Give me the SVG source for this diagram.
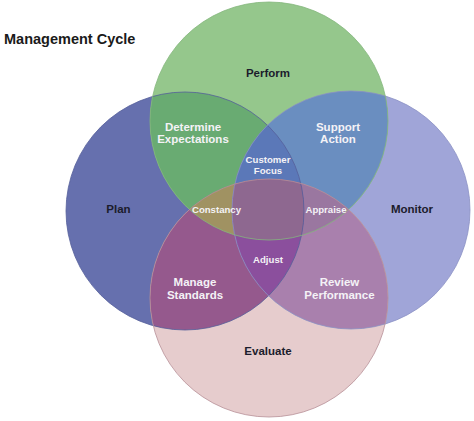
<svg xmlns="http://www.w3.org/2000/svg" width="474" height="421" viewBox="0 0 474 421">
<style>
text{font-family:"Liberation Sans",Arial,sans-serif;font-weight:bold;text-anchor:middle}
.dk{fill:#1c1c2c;font-size:11.5px}
.wt{fill:#f4f2f6;font-size:11.5px}
.sm{fill:#f4f2f6;font-size:9.6px}
.edge{fill:none;stroke-width:0.8}
</style>
<defs>
<circle id="P" cx="269" cy="121" r="119"/>
<circle id="L" cx="185" cy="211" r="119"/>
<circle id="M" cx="351" cy="210" r="119"/>
<circle id="E" cx="269" cy="298" r="119"/>
<clipPath id="cP"><use href="#P"/></clipPath>
<clipPath id="cL"><use href="#L"/></clipPath>
<clipPath id="cM"><use href="#M"/></clipPath>
<clipPath id="cE"><use href="#E"/></clipPath>
</defs>
<g id="circles">
<use href="#L" fill="#6670ae"/>
<use href="#M" fill="#a0a5d8"/>
<use href="#P" fill="#95c78c"/>
<use href="#E" fill="#e6cccd"/>
<use href="#L" fill="#7a6f9a" clip-path="url(#cM)"/>
<use href="#P" fill="#b8a8a0" clip-path="url(#cE)"/>
<use href="#L" fill="#69ab72" clip-path="url(#cP)"/>
<use href="#M" fill="#6a8ec0" clip-path="url(#cP)"/>
<use href="#L" fill="#95598d" clip-path="url(#cE)"/>
<use href="#M" fill="#a980ad" clip-path="url(#cE)"/>
<g clip-path="url(#cP)"><use href="#L" fill="#5b78b8" clip-path="url(#cM)"/></g>
<g clip-path="url(#cP)"><use href="#L" fill="#a09262" clip-path="url(#cE)"/></g>
<g clip-path="url(#cP)"><use href="#M" fill="#9a77a0" clip-path="url(#cE)"/></g>
<g clip-path="url(#cL)"><use href="#M" fill="#8b4f9d" clip-path="url(#cE)"/></g>
<g clip-path="url(#cP)"><g clip-path="url(#cL)"><use href="#M" fill="#8e6890" clip-path="url(#cE)"/></g></g>
<use href="#L" class="edge" stroke="#55609a"/>
<use href="#M" class="edge" stroke="#8a90c4"/>
<use href="#P" class="edge" stroke="#84b67c"/>
<use href="#E" class="edge" stroke="#b89098"/>
</g>
<text x="4" y="43.5" style="text-anchor:start;font-size:14.5px;fill:#1a1a1a">Management Cycle</text>
<g id="perform"><text class="dk" x="268" y="77">Perform</text></g>
<g id="plan"><text class="dk" x="118.5" y="213">Plan</text></g>
<g id="monitor"><text class="dk" x="412" y="213">Monitor</text></g>
<g id="evaluate"><text class="dk" x="268" y="355">Evaluate</text></g>
<g id="determine"><text class="wt" x="193" y="131">Determine</text><text class="wt" x="193" y="143">Expectations</text></g>
<g id="support"><text class="wt" x="338" y="131">Support</text><text class="wt" x="338" y="143">Action</text></g>
<g id="manage"><text class="wt" x="195" y="286">Manage</text><text class="wt" x="195" y="298.5">Standards</text></g>
<g id="review"><text class="wt" x="339.5" y="286">Review</text><text class="wt" x="339.5" y="298.5">Performance</text></g>
<g id="customer"><text class="sm" x="268" y="163">Customer</text><text class="sm" x="268" y="174">Focus</text></g>
<g id="constancy"><text class="sm" x="216.5" y="213.3">Constancy</text></g>
<g id="appraise"><text class="sm" x="326" y="213.3">Appraise</text></g>
<g id="adjust"><text class="sm" x="268" y="262.5">Adjust</text></g>
<g id="connectors"/>
</svg>
